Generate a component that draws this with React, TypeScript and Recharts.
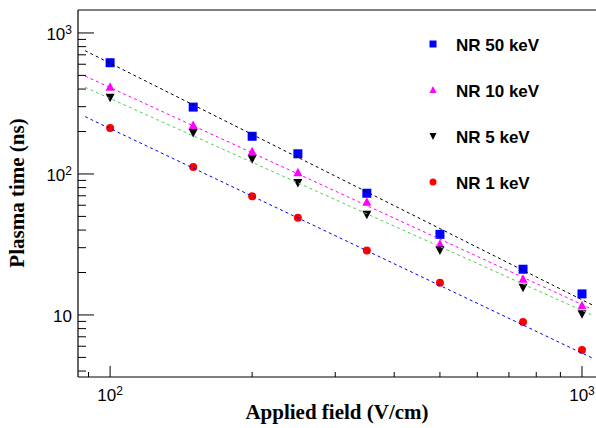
import React from 'react';
import { ScatterChart, Scatter, XAxis, YAxis, Legend } from 'recharts';

// Applied field (V/cm) and plasma time (ns)
const fields = [100, 150, 200, 250, 350, 500, 750, 1000];
const nr50 = [615, 298, 185, 139, 73, 37.3, 21.1, 14.1];
const nr10 = [412, 221, 144, 102, 63, 31.7, 17.9, 11.6];
const nr5 = [350, 197, 128, 87, 51.8, 28.9, 15.7, 10.2];
const nr1 = [212, 112, 69.5, 49, 28.6, 16.9, 8.9, 5.65];

// power-law fit lines, end points
const fitFields = [88.5, 1050];
const fit50 = [749, 11.8];
const fit10 = [495, 11.0];
const fit5 = [412, 10.0];
const fit1 = [255, 4.96];

const xTicks = [90, 100, 200, 300, 400, 500, 600, 700, 800, 900, 1000];
const yTicks = [4, 5, 6, 7, 8, 9, 10, 20, 30, 40, 50, 60, 70, 80, 90, 100, 200, 300, 400, 500, 600, 700, 800, 900, 1000];
const xMajor = [100, 1000];
const yMajor = [10, 100, 1000];

const toPoints = (xs: number[], ys: number[]) => xs.map((x, i) => ({ x, y: ys[i] }));

const SANS = '"Liberation Sans", Arial, sans-serif';
const SERIF = '"Liberation Serif", "Times New Roman", serif';

const exponent = (v: number) => (v === 100 ? '2' : v === 1000 ? '3' : null);

const XTick = (props: any) => {
  const { x, y, payload } = props;
  const v = payload.value;
  const major = xMajor.includes(v);
  const e = exponent(v);
  return (
    <g>
      <line x1={x} y1={y} x2={x} y2={y - (major ? 11 : 5)} stroke="#000" />
      {major && (
        <text x={x} y={y + 24} textAnchor="middle" fontFamily={SANS} fontSize={17} fill="#000">
          10{e && <tspan dy={-6} fontSize={12}>{e}</tspan>}
        </text>
      )}
    </g>
  );
};

const YTick = (props: any) => {
  const { x, y, payload } = props;
  const v = payload.value;
  const major = yMajor.includes(v);
  const e = exponent(v);
  return (
    <g>
      <line x1={x} y1={y} x2={x + (major ? 16 : 8)} y2={y} stroke="#000" />
      {major && (
        <text x={x - 6} y={y + 7} textAnchor="end" fontFamily={SANS} fontSize={17} fill="#000">
          10{e && <tspan dy={-6} fontSize={12}>{e}</tspan>}
        </text>
      )}
    </g>
  );
};

const Square = (p: any) => <rect x={p.cx - 4.5} y={p.cy - 4.5} width={9} height={9} fill="#0000ff" />;
const TriUp = (p: any) => (
  <polygon points={`${p.cx},${p.cy - 5} ${p.cx - 4.5},${p.cy + 3.5} ${p.cx + 4.5},${p.cy + 3.5}`} fill="#ff00ff" />
);
const TriDown = (p: any) => (
  <polygon points={`${p.cx},${p.cy + 5} ${p.cx - 4.5},${p.cy - 3.5} ${p.cx + 4.5},${p.cy - 3.5}`} fill="#000" />
);
const Dot = (p: any) => <circle cx={p.cx} cy={p.cy} r={4} fill="#ff0000" />;
const NoShape = () => <g />;

// legend markers are a bit smaller than the plotted ones
const LegSquare = (p: any) => <rect x={p.cx - 3.5} y={p.cy - 3.5} width={7} height={7} fill="#0000ff" />;
const LegTriUp = (p: any) => (
  <polygon points={`${p.cx},${p.cy - 4} ${p.cx - 3.5},${p.cy + 3} ${p.cx + 3.5},${p.cy + 3}`} fill="#ff00ff" />
);
const LegTriDown = (p: any) => (
  <polygon points={`${p.cx},${p.cy + 4} ${p.cx - 3.5},${p.cy - 3} ${p.cx + 3.5},${p.cy - 3}`} fill="#000" />
);
const LegDot = (p: any) => <circle cx={p.cx} cy={p.cy} r={3.5} fill="#ff0000" />;

const legendRows = [
  { label: 'NR 50 keV', Shape: LegSquare, cy: 24 },
  { label: 'NR 10 keV', Shape: LegTriUp, cy: 70 },
  { label: 'NR 5 keV', Shape: LegTriDown, cy: 116 },
  { label: 'NR 1 keV', Shape: LegDot, cy: 162 },
];

const renderLegend = () => (
  <svg width={170} height={180}>
    {legendRows.map(({ label, Shape, cy }) => (
      <g key={label}>
        <Shape cx={13} cy={cy} />
        <text x={36} y={cy + 6.5} fontFamily={SANS} fontWeight="bold" fontSize={17} fill="#000">
          {label}
        </text>
      </g>
    ))}
  </svg>
);

const dashed = (stroke: string) => ({ stroke, strokeWidth: 1, strokeDasharray: '3 3' });

export default function App() {
  return (
    <div style={{ position: 'fixed', left: 0, top: 0, width: 596, height: 428, overflow: 'hidden', background: '#fff' }}>
      <ScatterChart width={600} height={428} margin={{ top: 9, right: 3, bottom: 50, left: 77 }}>
        <XAxis
          dataKey="x"
          type="number"
          scale="log"
          domain={[85.5, 1076]}
          allowDataOverflow
          ticks={xTicks}
          interval={0}
          height={1}
          tickSize={0}
          tickMargin={0}
          tickLine={false}
          tick={<XTick />}
          axisLine={{ stroke: '#000', strokeWidth: 1.2 }}
          label={{
            content: () => (
              <text x={337} y={419} textAnchor="middle" fontFamily={SERIF} fontWeight="bold" fontSize={21} fill="#000">
                Applied field (V/cm)
              </text>
            ),
          }}
        />
        <XAxis
          xAxisId="top"
          orientation="top"
          type="number"
          domain={[0, 1]}
          height={1}
          tick={false}
          tickLine={false}
          axisLine={{ stroke: '#000', strokeWidth: 1.2 }}
        />
        <YAxis
          dataKey="y"
          type="number"
          scale="log"
          domain={[3.63, 1455]}
          allowDataOverflow
          ticks={yTicks}
          interval={0}
          width={1}
          tickSize={0}
          tickMargin={0}
          tickLine={false}
          tick={<YTick />}
          axisLine={{ stroke: '#000', strokeWidth: 1.2 }}
          label={{
            content: () => (
              <text
                x={0}
                y={0}
                transform="translate(24,193) rotate(-90)"
                textAnchor="middle"
                fontFamily={SERIF}
                fontWeight="bold"
                fontSize={21}
                fill="#000"
              >
                Plasma time (ns)
              </text>
            ),
          }}
        />
        <Legend
          layout="vertical"
          align="center"
          verticalAlign="middle"
          content={renderLegend}
          wrapperStyle={{ left: 420, top: 20, width: 170, height: 180 }}
        />
        <Scatter name="NR 50 keV" data={toPoints(fields, nr50)} shape={Square} isAnimationActive={false} />
        <Scatter name="NR 10 keV" data={toPoints(fields, nr10)} shape={TriUp} isAnimationActive={false} />
        <Scatter name="NR 5 keV" data={toPoints(fields, nr5)} shape={TriDown} isAnimationActive={false} />
        <Scatter name="NR 1 keV" data={toPoints(fields, nr1)} shape={Dot} isAnimationActive={false} />
        <Scatter data={toPoints(fitFields, fit50)} line={dashed('#000000')} shape={NoShape} legendType="none" isAnimationActive={false} />
        <Scatter data={toPoints(fitFields, fit10)} line={dashed('#ff00ff')} shape={NoShape} legendType="none" isAnimationActive={false} />
        <Scatter data={toPoints(fitFields, fit5)} line={dashed('#55cc55')} shape={NoShape} legendType="none" isAnimationActive={false} />
        <Scatter data={toPoints(fitFields, fit1)} line={dashed('#0000ff')} shape={NoShape} legendType="none" isAnimationActive={false} />
      </ScatterChart>
    </div>
  );
}
